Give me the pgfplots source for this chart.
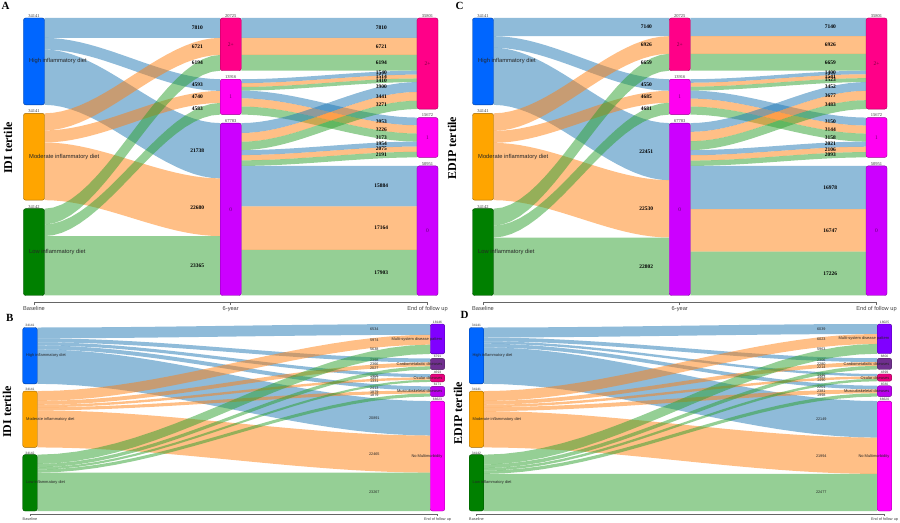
\documentclass[border=0pt]{standalone}
\usepackage{pgfplots}
\pgfplotsset{compat=1.18}
\usepackage{fontspec}
\setmainfont{Liberation Sans}
\newfontfamily\tnr{Liberation Serif}
\definecolor{rb}{HTML}{1F77B4}
\definecolor{ro}{HTML}{FF7F0E}
\definecolor{rg}{HTML}{2CA02C}
\definecolor{nHigh}{HTML}{0066FF}
\definecolor{nMod}{HTML}{FFA500}
\definecolor{nLow}{HTML}{008000}
\definecolor{ntwo}{HTML}{FF0088}
\definecolor{nOne}{HTML}{FF00F0}
\definecolor{nzero}{HTML}{CC00FF}
\definecolor{nMulti}{HTML}{8000FF}
\definecolor{nCardio}{HTML}{702F8F}
\definecolor{nOcular}{HTML}{E8007F}
\definecolor{nMusc}{HTML}{BB00EE}
\definecolor{nNoMM}{HTML}{FF00FF}
\pgfplotsset{
 flowrib/.style={draw=none, fill opacity=0.5, forget plot},
 nodebox/.style={rounded corners=2.2bp, line width=0.4bp, forget plot},
}
\tikzset{
 lblA/.style={font=\tnr\bfseries\fontsize{5.5}{6}\selectfont, inner sep=0pt, text=black},
 lblB/.style={font=\fontsize{3.8}{4}\selectfont, inner sep=0pt, text=black!85},
 vlabA/.style={font=\tnr\fontsize{4.5}{5}\selectfont, inner sep=0.4pt, anchor=south, text=black!80},
 vlabB/.style={font=\fontsize{3.3}{3.5}\selectfont, inner sep=0.4pt, anchor=south, text=black!80},
 namA/.style={font=\fontsize{5.8}{6}\selectfont, inner sep=0pt, anchor=west, xshift=-5bp, text=black!85},
 namB/.style={font=\fontsize{4}{4.5}\selectfont, inner sep=0pt, anchor=west, xshift=-4bp, text=black!85},
 endB/.style={font=\fontsize{4}{4.5}\selectfont, inner sep=0pt, anchor=east, xshift=5bp, text=black!85},
 midA/.style={font=\tnr\fontsize{5.5}{6}\selectfont, inner sep=0pt, text=black, text opacity=0.55},
 ttl/.style={font=\tnr\bfseries\fontsize{12}{12}\selectfont, rotate=90, inner sep=0pt},
 let/.style={font=\tnr\bfseries\fontsize{11}{11}\selectfont, anchor=north west, inner sep=0pt},
}
\pgfplotsset{sankeypanel/.style={scale only axis, clip=false, anchor=south west,
  axis x line=bottom, axis y line=none, ytick=\empty,
  x axis line style={-, draw=gray!80!black, line width=0.6bp},
  tick align=outside, major tick length=2.5bp,
  xtick style={draw=gray!80!black, line width=0.6bp},
  xticklabel style={font=\fontsize{5.7}{6}\selectfont, text=black!75, inner sep=1.5pt}}}
% geometry helpers
\newcommand\RPt[5]{(\fpeval{(#1)+(#5)*((#2)-(#1))},\fpeval{-((#3)+(3*(#5)^2-2*(#5)^3)*((#4)-(#3)))}) }
\newcommand\rib[6]{%
  \def\Qt##1{\RPt{#1}{#2}{#3}{#4}{##1}}%
  \def\Qb##1{\RPt{#1}{#2}{#3+#5}{#4+#5}{##1}}%
  \edef\ribtmp{\noexpand\addplot[flowrib,fill=#6] coordinates {%
    \Qt{0}\Qt{0.05}\Qt{0.1}\Qt{0.15}\Qt{0.2}\Qt{0.25}\Qt{0.3}\Qt{0.35}\Qt{0.4}\Qt{0.45}\Qt{0.5}\Qt{0.55}\Qt{0.6}\Qt{0.65}\Qt{0.7}\Qt{0.75}\Qt{0.8}\Qt{0.85}\Qt{0.9}\Qt{0.95}\Qt{1}%
    \Qb{1}\Qb{0.95}\Qb{0.9}\Qb{0.85}\Qb{0.8}\Qb{0.75}\Qb{0.7}\Qb{0.65}\Qb{0.6}\Qb{0.55}\Qb{0.5}\Qb{0.45}\Qb{0.4}\Qb{0.35}\Qb{0.3}\Qb{0.25}\Qb{0.2}\Qb{0.15}\Qb{0.1}\Qb{0.05}\Qb{0}};}%
  \ribtmp}
% \flow{src counter}{tgt counter}{value}{colour}{x0}{x1}{label x}{label style}
\newcommand\flow[8]{%
  \edef\fya{#1}\edef\fyb{#2}%
  \rib{#5}{#6}{\fya}{\fyb}{#3}{#4}%
  \edef\flbtmp{\noexpand\node[#8] at (axis cs:#7,\fpeval{-(\fyb+(#3)/2)}) {#3};}\flbtmp
  \xdef#1{\fpeval{#1+#3}}\xdef#2{\fpeval{#2+#3}}}
% \NODE{x centre}{half width}{top}{height}{colour}
\newcommand\NODE[5]{\edef\ndtmp{\noexpand\addplot[nodebox,fill=#5,draw=#5!60!black] coordinates {(\fpeval{#1},\fpeval{-(#3)}) (\fpeval{#1+#2},\fpeval{-(#3)}) (\fpeval{#1+#2},\fpeval{-(#3+#4)}) (\fpeval{#1-#2},\fpeval{-(#3+#4)}) (\fpeval{#1-#2},\fpeval{-(#3)}) (\fpeval{#1},\fpeval{-(#3)})};}\ndtmp}
% \NLAB{x}{y centre expr}{text}{style}
\newcommand\NLAB[4]{\edef\nltmp{\noexpand\node[#4] at (axis cs:#1,\fpeval{-(#2)}) {\unexpanded{#3}};}\nltmp}
\def\fa#1#2#3#4{\flow{#1}{#2}{#3}{#4}{0.0534}{0.9466}{0.83}{lblA}}
\def\fb#1#2#3#4{\flow{#1}{#2}{#3}{#4}{1.0534}{1.9466}{1.765}{lblA}}
\def\fc#1#2#3#4{\flow{#1}{#2}{#3}{#4}{0.0181}{0.9819}{0.845}{lblB}}
\begin{document}
\begin{tikzpicture}
\useasboundingbox (0bp,0bp) rectangle (900bp,-523bp);
% ================= Panel A =================
\begin{axis}[sankeypanel, at={(34bp,-302.5bp)}, width=393.5bp, height=284.5bp,
  xmin=0, xmax=2, ymin=-111862, ymax=0, xtick={0,1,2},
  xticklabels={Baseline,6-year,End of follow up}]
\xdef\SrcA{0}\xdef\SrcB{37483}\xdef\SrcC{74966}
\xdef\TgtA{0}\xdef\TgtB{24067}\xdef\TgtC{41325}
\fa{\SrcA}{\TgtA}{7810}{rb}\fa{\SrcA}{\TgtB}{4593}{rb}\fa{\SrcA}{\TgtC}{21738}{rb}
\fa{\SrcB}{\TgtA}{6721}{ro}\fa{\SrcB}{\TgtB}{4740}{ro}\fa{\SrcB}{\TgtC}{22680}{ro}
\fa{\SrcC}{\TgtA}{6194}{rg}\fa{\SrcC}{\TgtB}{4583}{rg}\fa{\SrcC}{\TgtC}{23365}{rg}
\xdef\SrcA{0}\xdef\SrcB{24067}\xdef\SrcC{41325}
\xdef\TgtA{0}\xdef\TgtB{39143}\xdef\TgtC{58157}
\fb{\SrcA}{\TgtA}{7810}{rb}\fb{\SrcA}{\TgtA}{6721}{ro}\fb{\SrcA}{\TgtA}{6194}{rg}
\fb{\SrcB}{\TgtA}{1540}{rb}\fb{\SrcB}{\TgtA}{1514}{ro}\fb{\SrcB}{\TgtA}{1410}{rg}
\fb{\SrcB}{\TgtB}{3053}{rb}\fb{\SrcB}{\TgtB}{3226}{ro}\fb{\SrcB}{\TgtB}{3173}{rg}
\fb{\SrcC}{\TgtA}{3900}{rb}\fb{\SrcC}{\TgtA}{3441}{ro}\fb{\SrcC}{\TgtA}{3271}{rg}
\fb{\SrcC}{\TgtB}{1954}{rb}\fb{\SrcC}{\TgtB}{2075}{ro}\fb{\SrcC}{\TgtB}{2191}{rg}
\fb{\SrcC}{\TgtC}{15884}{rb}\fb{\SrcC}{\TgtC}{17164}{ro}\fb{\SrcC}{\TgtC}{17903}{rg}
\NODE{0}{0.0534}{0}{34141}{nHigh}\NODE{0}{0.0534}{37483}{34141}{nMod}\NODE{0}{0.0534}{74966}{34142}{nLow}
\NODE{1}{0.0534}{0}{20725}{ntwo}\NODE{1}{0.0534}{24067}{13916}{nOne}\NODE{1}{0.0534}{41325}{67783}{nzero}
\NODE{2}{0.0534}{0}{35801}{ntwo}\NODE{2}{0.0534}{39143}{15672}{nOne}\NODE{2}{0.0534}{58157}{50951}{nzero}
\NLAB{0}{17070}{High inflammatory diet}{namA}
\NLAB{0}{37483+17070}{Moderate inflammatory diet}{namA}
\NLAB{0}{74966+17071}{Low inflammatory diet}{namA}
\NLAB{1}{10362}{2+}{midA}\NLAB{1}{24067+6958}{1}{midA}\NLAB{1}{41325+33891}{0}{midA}
\NLAB{2}{17900}{2+}{midA}\NLAB{2}{39143+7836}{1}{midA}\NLAB{2}{58157+25475}{0}{midA}
\NLAB{0}{0}{34141}{vlabA}\NLAB{0}{37483}{34141}{vlabA}\NLAB{0}{74966}{34142}{vlabA}
\NLAB{1}{0}{20725}{vlabA}\NLAB{1}{24067}{13916}{vlabA}\NLAB{1}{41325}{67783}{vlabA}
\NLAB{2}{0}{35801}{vlabA}\NLAB{2}{39143}{15672}{vlabA}\NLAB{2}{58157}{50951}{vlabA}
\end{axis}
% ================= Panel C =================
\begin{axis}[sankeypanel, at={(483bp,-302.5bp)}, width=393.5bp, height=284.5bp,
  xmin=0, xmax=2, ymin=-111862, ymax=0, xtick={0,1,2},
  xticklabels={Baseline,6-year,End of follow up}]
\xdef\SrcA{0}\xdef\SrcB{37483}\xdef\SrcC{74966}
\xdef\TgtA{0}\xdef\TgtB{24067}\xdef\TgtC{41325}
\fa{\SrcA}{\TgtA}{7140}{rb}\fa{\SrcA}{\TgtB}{4550}{rb}\fa{\SrcA}{\TgtC}{22451}{rb}
\fa{\SrcB}{\TgtA}{6926}{ro}\fa{\SrcB}{\TgtB}{4685}{ro}\fa{\SrcB}{\TgtC}{22530}{ro}
\fa{\SrcC}{\TgtA}{6659}{rg}\fa{\SrcC}{\TgtB}{4681}{rg}\fa{\SrcC}{\TgtC}{22802}{rg}
\xdef\SrcA{0}\xdef\SrcB{24067}\xdef\SrcC{41325}
\xdef\TgtA{0}\xdef\TgtB{39143}\xdef\TgtC{58157}
\fb{\SrcA}{\TgtA}{7140}{rb}\fb{\SrcA}{\TgtA}{6926}{ro}\fb{\SrcA}{\TgtA}{6659}{rg}
\fb{\SrcB}{\TgtA}{1400}{rb}\fb{\SrcB}{\TgtA}{1541}{ro}\fb{\SrcB}{\TgtA}{1523}{rg}
\fb{\SrcB}{\TgtB}{3150}{rb}\fb{\SrcB}{\TgtB}{3144}{ro}\fb{\SrcB}{\TgtB}{3158}{rg}
\fb{\SrcC}{\TgtA}{3452}{rb}\fb{\SrcC}{\TgtA}{3677}{ro}\fb{\SrcC}{\TgtA}{3483}{rg}
\fb{\SrcC}{\TgtB}{2021}{rb}\fb{\SrcC}{\TgtB}{2106}{ro}\fb{\SrcC}{\TgtB}{2093}{rg}
\fb{\SrcC}{\TgtC}{16978}{rb}\fb{\SrcC}{\TgtC}{16747}{ro}\fb{\SrcC}{\TgtC}{17226}{rg}
\NODE{0}{0.0534}{0}{34141}{nHigh}\NODE{0}{0.0534}{37483}{34141}{nMod}\NODE{0}{0.0534}{74966}{34142}{nLow}
\NODE{1}{0.0534}{0}{20725}{ntwo}\NODE{1}{0.0534}{24067}{13916}{nOne}\NODE{1}{0.0534}{41325}{67783}{nzero}
\NODE{2}{0.0534}{0}{35801}{ntwo}\NODE{2}{0.0534}{39143}{15672}{nOne}\NODE{2}{0.0534}{58157}{50951}{nzero}
\NLAB{0}{17070}{High inflammatory diet}{namA}
\NLAB{0}{37483+17070}{Moderate inflammatory diet}{namA}
\NLAB{0}{74966+17071}{Low inflammatory diet}{namA}
\NLAB{1}{10362}{2+}{midA}\NLAB{1}{24067+6958}{1}{midA}\NLAB{1}{41325+33891}{0}{midA}
\NLAB{2}{17900}{2+}{midA}\NLAB{2}{39143+7836}{1}{midA}\NLAB{2}{58157+25475}{0}{midA}
\NLAB{0}{0}{34141}{vlabA}\NLAB{0}{37483}{34141}{vlabA}\NLAB{0}{74966}{34142}{vlabA}
\NLAB{1}{0}{20725}{vlabA}\NLAB{1}{24067}{13916}{vlabA}\NLAB{1}{41325}{67783}{vlabA}
\NLAB{2}{0}{35801}{vlabA}\NLAB{2}{39143}{15672}{vlabA}\NLAB{2}{58157}{50951}{vlabA}
\end{axis}
% ================= Panel B =================
\begin{axis}[sankeypanel, at={(30bp,-514bp)}, width=407.5bp, height=190bp,
  xmin=0, xmax=1, ymin=-115152, ymax=0, xtick={0,1},
  xticklabels={Baseline,End of follow up}, major tick length=1.8bp,
  xticklabel style={font=\fontsize{3.8}{4}\selectfont}]
\xdef\SrcA{2121}\xdef\SrcB{40656}\xdef\SrcC{79191}
\xdef\TgtA{0}\xdef\TgtB{20873}\xdef\TgtC{30391}\xdef\TgtD{37811}\xdef\TgtE{46709}
\fc{\SrcA}{\TgtA}{6534}{rb}\fc{\SrcA}{\TgtB}{2398}{rb}\fc{\SrcA}{\TgtC}{1905}{rb}\fc{\SrcA}{\TgtD}{2413}{rb}\fc{\SrcA}{\TgtE}{20891}{rb}
\fc{\SrcB}{\TgtA}{5974}{ro}\fc{\SrcB}{\TgtB}{2366}{ro}\fc{\SrcB}{\TgtC}{1457}{ro}\fc{\SrcB}{\TgtD}{1879}{ro}\fc{\SrcB}{\TgtE}{22465}{ro}
\fc{\SrcC}{\TgtA}{5638}{rg}\fc{\SrcC}{\TgtB}{2027}{rg}\fc{\SrcC}{\TgtC}{1331}{rg}\fc{\SrcC}{\TgtD}{1879}{rg}\fc{\SrcC}{\TgtE}{23267}{rg}
\NODE{0}{0.0178}{2121}{34141}{nHigh}\NODE{0}{0.0178}{40656}{34141}{nMod}\NODE{0}{0.0178}{79191}{34142}{nLow}
\NODE{1}{0.0178}{0}{18146}{nMulti}\NODE{1}{0.0178}{20873}{6791}{nCardio}\NODE{1}{0.0178}{30391}{4693}{nOcular}\NODE{1}{0.0178}{37811}{6171}{nMusc}\NODE{1}{0.0178}{46709}{66623}{nNoMM}
\NLAB{0}{2121+17070}{High inflammatory diet}{namB}
\NLAB{0}{40656+17070}{Moderate inflammatory diet}{namB}
\NLAB{0}{79191+17071}{Low inflammatory diet}{namB}
\NLAB{1}{9073}{Multi-system disease pattern}{endB}
\NLAB{1}{20873+3395}{Cardiometabolic diseases}{endB}
\NLAB{1}{30391+2346}{Ocular diseases}{endB}
\NLAB{1}{37811+3085}{Musculoskeletal diseases}{endB}
\NLAB{1}{46709+33311}{No Multimorbidity}{endB}
\NLAB{0}{2121}{34141}{vlabB}\NLAB{0}{40656}{34141}{vlabB}\NLAB{0}{79191}{34142}{vlabB}
\NLAB{1}{0}{18146}{vlabB}\NLAB{1}{20873}{6791}{vlabB}\NLAB{1}{30391}{4693}{vlabB}\NLAB{1}{37811}{6171}{vlabB}\NLAB{1}{46709}{66623}{vlabB}
\end{axis}
% ================= Panel D =================
\begin{axis}[sankeypanel, at={(476.5bp,-514bp)}, width=408bp, height=190bp,
  xmin=0, xmax=1, ymin=-115152, ymax=0, xtick={0,1},
  xticklabels={Baseline,End of follow up}, major tick length=1.8bp,
  xticklabel style={font=\fontsize{3.8}{4}\selectfont}]
\xdef\SrcA{2121}\xdef\SrcB{40656}\xdef\SrcC{79191}
\xdef\TgtA{0}\xdef\TgtB{20752}\xdef\TgtC{30279}\xdef\TgtD{37405}\xdef\TgtE{46712}
\fc{\SrcA}{\TgtA}{6039}{rb}\fc{\SrcA}{\TgtB}{2306}{rb}\fc{\SrcA}{\TgtC}{1446}{rb}\fc{\SrcA}{\TgtD}{2201}{rb}\fc{\SrcA}{\TgtE}{22149}{rb}
\fc{\SrcB}{\TgtA}{6023}{ro}\fc{\SrcB}{\TgtB}{2280}{ro}\fc{\SrcB}{\TgtC}{1463}{ro}\fc{\SrcB}{\TgtD}{2381}{ro}\fc{\SrcB}{\TgtE}{21994}{ro}
\fc{\SrcC}{\TgtA}{5963}{rg}\fc{\SrcC}{\TgtB}{2214}{rg}\fc{\SrcC}{\TgtC}{1490}{rg}\fc{\SrcC}{\TgtD}{1998}{rg}\fc{\SrcC}{\TgtE}{22477}{rg}
\NODE{0}{0.0178}{2121}{34141}{nHigh}\NODE{0}{0.0178}{40656}{34141}{nMod}\NODE{0}{0.0178}{79191}{34142}{nLow}
\NODE{1}{0.0178}{0}{18025}{nMulti}\NODE{1}{0.0178}{20752}{6800}{nCardio}\NODE{1}{0.0178}{30279}{4399}{nOcular}\NODE{1}{0.0178}{37405}{6580}{nMusc}\NODE{1}{0.0178}{46712}{66620}{nNoMM}
\NLAB{0}{2121+17070}{High inflammatory diet}{namB}
\NLAB{0}{40656+17070}{Moderate inflammatory diet}{namB}
\NLAB{0}{79191+17071}{Low inflammatory diet}{namB}
\NLAB{1}{9012}{Multi-system disease pattern}{endB}
\NLAB{1}{20752+3400}{Cardiometabolic diseases}{endB}
\NLAB{1}{30279+2200}{Ocular diseases}{endB}
\NLAB{1}{37405+3290}{Musculoskeletal diseases}{endB}
\NLAB{1}{46712+33310}{No Multimorbidity}{endB}
\NLAB{0}{2121}{34141}{vlabB}\NLAB{0}{40656}{34141}{vlabB}\NLAB{0}{79191}{34142}{vlabB}
\NLAB{1}{0}{18025}{vlabB}\NLAB{1}{20752}{6800}{vlabB}\NLAB{1}{30279}{4399}{vlabB}\NLAB{1}{37405}{6580}{vlabB}\NLAB{1}{46712}{66620}{vlabB}
\end{axis}
% titles and panel letters
\node[ttl] at (8bp,-148bp) {IDI tertile};
\node[ttl] at (452bp,-148bp) {EDIP tertile};
\node[ttl] at (7bp,-412bp) {IDI tertile};
\node[ttl] at (458bp,-413bp) {EDIP tertile};
\node[let] at (1.5bp,-2.5bp) {A};
\node[let] at (455.5bp,-2.5bp) {C};
\node[let] at (6bp,-314.5bp) {B};
\node[let] at (460.5bp,-311.5bp) {D};
\end{tikzpicture}
\end{document}
